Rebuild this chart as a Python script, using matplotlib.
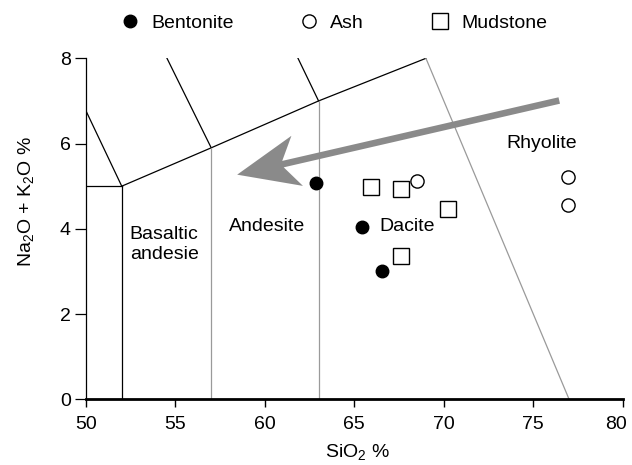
import matplotlib
matplotlib.use("Agg")
import matplotlib.pyplot as plt
import matplotlib.transforms as mtransforms
from matplotlib.patches import Polygon
import numpy as np

plt.rcParams['font.family'] = ['Liberation Sans', 'DejaVu Sans']
plt.rcParams['mathtext.fontset'] = 'custom'
plt.rcParams['mathtext.rm'] = 'Liberation Sans'
plt.rcParams['mathtext.it'] = 'Liberation Sans'

# samples (SiO2 %, Na2O + K2O %)
bentonite_si = [62.85, 65.45, 66.55]
bentonite_alk = [5.07, 4.04, 3.00]
ash_si = [68.5, 76.95, 76.95]
ash_alk = [5.12, 5.21, 4.55]
mud_si = [65.95, 67.6, 70.25, 67.6]
mud_alk = [4.97, 4.94, 4.47, 3.36]

# TAS field boundaries
black_lines = [
    ([45, 52], [5, 5]),
    ([52, 52], [0, 5]),
    ([52, 49.4], [5, 7.3]),
    ([52, 57, 63, 69], [5, 5.9, 7, 8]),
    ([57, 53], [5.9, 9.3]),
    ([63, 57.6], [7, 11.7]),
]
gray_lines = [
    ([57, 57], [0, 5.9]),
    ([63, 63], [0, 7]),
    ([69, 77], [8, 0]),
]

field_labels = [
    (52.45, 3.64, "Basaltic\nandesie"),
    (58.0, 4.05, "Andesite"),
    (66.4, 4.05, "Dacite"),
    (73.5, 5.99, "Rhyolite"),
]

arrow_tail = (76.45, 7.01)
arrow_tip = (58.45, 5.27)

fig = plt.figure(figsize=(6.32, 4.65), dpi=100)
ax = fig.add_axes([0.136, 0.1413, 0.8494, 0.7333])

for xs, ys in black_lines:
    ax.plot(xs, ys, color="black", linewidth=0.9)
for xs, ys in gray_lines:
    ax.plot(xs, ys, color="#9a9a9a", linewidth=0.9)

ax.set_xlim(50, 80)
ax.set_ylim(0, 8)

# big gray arrow, built in pixel space so the head keeps its shape
p_tail = ax.transData.transform(arrow_tail)
p_tip = ax.transData.transform(arrow_tip)
u = (p_tip - p_tail) / np.linalg.norm(p_tip - p_tail)
n = np.array([-u[1], u[0]])
head_len, head_half, notch, shaft_half = 61.6, 25.7, 47.0, 3.3
pts = [
    p_tip,
    p_tip - u * head_len + n * head_half,
    p_tip - u * notch + n * shaft_half,
    p_tail + n * shaft_half,
    p_tail - n * shaft_half,
    p_tip - u * notch - n * shaft_half,
    p_tip - u * head_len - n * head_half,
]
ax.add_patch(Polygon(pts, closed=True, transform=None, facecolor="#8a8a8a",
                     edgecolor="none", zorder=2))

h1, = ax.plot(bentonite_si, bentonite_alk, "o", color="black", markersize=9,
              linestyle="none", label="Bentonite", zorder=3)
h2, = ax.plot(ash_si, ash_alk, "o", markerfacecolor="white", markeredgecolor="black",
              markersize=9.5, markeredgewidth=1.0, linestyle="none", label="Ash", zorder=3)
h3, = ax.plot(mud_si, mud_alk, "s", markerfacecolor="white", markeredgecolor="black",
              markersize=11, markeredgewidth=1.0, linestyle="none", label="Mudstone", zorder=3)

for x, y, s in field_labels:
    ax.text(x, y, s, fontsize=14, ha="left", va="center", linespacing=1.25)

ax.spines["top"].set_visible(False)
ax.spines["right"].set_visible(False)
ax.spines["left"].set_linewidth(0.9)
ax.spines["bottom"].set_linewidth(2.0)
ax.set_xticks([50, 55, 60, 65, 70, 75, 80])
ax.set_yticks([0, 2, 4, 6, 8])
ax.tick_params(axis="x", direction="out", length=6, width=1.0, labelsize=14, pad=6)
ax.tick_params(axis="y", direction="out", length=8, width=0.9, labelsize=14, pad=3)

# last x tick label sits a little left so it stays inside the image
last = ax.get_xticklabels()[-1]
last.set_transform(last.get_transform() +
                   mtransforms.ScaledTranslation(-5 / 72, 0, fig.dpi_scale_trans))

ax.set_xlabel("SiO$_2$ %", fontsize=14, va="center")
ax.xaxis.set_label_coords(0.506, -0.154)
ax.set_ylabel("Na$_2$O + K$_2$O %", fontsize=14, va="center")
ax.yaxis.set_label_coords(-0.112, 0.58)

fig.legend(handles=[h1, h2, h3], loc="center left",
           bbox_to_anchor=(120.3 / 632, 1 - 22.7 / 465), ncol=3, frameon=False,
           fontsize=14, handlelength=1.0, handletextpad=0.58, columnspacing=3.4,
           borderpad=0, borderaxespad=0)

fig.savefig("out.png", dpi=100)
